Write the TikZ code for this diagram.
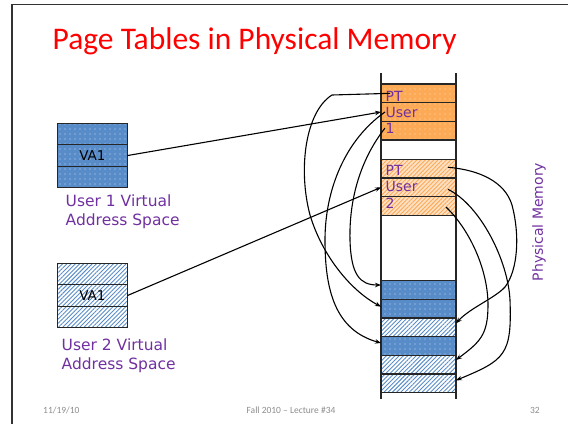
\documentclass[tikz,border=0pt]{standalone}
\usepackage{fontspec}
\setmainfont{Carlito}
\newfontfamily\verdfont{DejaVu Sans}
\usetikzlibrary{patterns.meta,arrows.meta}
\definecolor{memblue}{RGB}{88,140,200}
\definecolor{memorange}{RGB}{252,170,86}
\definecolor{labelpurple}{RGB}{112,48,160}
\definecolor{footgray}{RGB}{140,140,140}
\newcommand{\rowh}{18.67}
\newcommand{\vah}{21.5}
\tikzset{
    memrow/.style={draw=black!85, line width=1.1pt, minimum width=75pt,
        minimum height=\rowh pt, inner sep=0pt, outer sep=0pt},
    varow/.style={draw=black!85, line width=1pt, minimum width=70pt,
        minimum height=\vah pt, inner sep=0pt, outer sep=0pt},
    bluedots/.style={preaction={fill=memblue},
        pattern={Dots[distance=5pt,radius=0.65pt]}, pattern color=memblue!35!white},
    bluehatch/.style={preaction={fill=white},
        pattern={Lines[angle=45,distance=3pt,line width=0.9pt]}, pattern color=memblue},
    orangedots/.style={preaction={fill=memorange},
        pattern={Dots[distance=5pt,radius=0.65pt]}, pattern color=memorange!40!white},
    orangehatch/.style={preaction={fill=memorange!35!white},
        pattern={Lines[angle=45,distance=3pt,line width=0.9pt]}, pattern color=memorange},
    memlabel/.style={font=\verdfont\fontsize{14}{14}\selectfont, text=labelpurple,
        inner sep=0pt, anchor=base west},
    spacelabel/.style={font=\verdfont\fontsize{15.5}{15.5}\selectfont, text=labelpurple,
        inner sep=0pt, anchor=base west},
    vatext/.style={font=\verdfont\fontsize{13.5}{13.5}\selectfont, inner sep=0pt},
    footer/.style={font=\fontsize{9.5}{9.5}\selectfont, text=footgray, inner sep=0pt},
    link/.style={line width=1.1pt, ->},
}

\begin{document}
\begin{tikzpicture}[x=1pt, y=-1pt, >={Stealth[length=6pt,width=4.5pt]}]
\useasboundingbox (0,0) rectangle (568,424);

% slide frame and title
\draw[line width=1.5pt, black!80] (12,424) -- (12,4.7) -- (568,4.7);
\node[anchor=base west, font=\fontsize{31.5}{31.5}\selectfont, text=red, inner sep=0pt]
    (title) at (52.5,49.5) {Page Tables in Physical Memory};

% physical memory column
\draw[line width=1.1pt, black!85] (381,73) -- (381,399);
\draw[line width=1.1pt, black!85] (456,73) -- (456,399);
\foreach \name/\kind/\top in {p1/orangedots/84, p2/orangedots/102.67,
        p3/orangedots/121.33, h1/orangehatch/159.33, h2/orangehatch/178,
        h3/orangehatch/196.67, b1/bluedots/280.67, b2/bluedots/299.33,
        b3/bluehatch/318, b4/bluedots/336.67, b5/bluehatch/355.33,
        b6/bluehatch/374}
    \node[memrow,\kind,anchor=north west] (\name) at (381,\top) {};

\node[memlabel] (pt1) at (385.5,101) {PT};
\node[memlabel] (user1) at (385.5,117) {User};
\node[memlabel] (num1) at (385.5,133.3) {1};
\node[memlabel] (pt2) at (385.5,175) {PT};
\node[memlabel] (user2) at (385.5,191.7) {User};
\node[memlabel] (num2) at (385.5,208.3) {2};

\node[font=\verdfont\fontsize{14}{14}\selectfont, text=labelpurple, rotate=90]
    (physmem) at (539,222) {Physical Memory};

% virtual address spaces
\foreach \r/\top in {1/123.3, 2/144.8, 3/166.3}
    \node[varow,bluedots,anchor=north west] (vaa\r) at (57.4,\top) {};
\foreach \r/\top in {1/263.3, 2/284.8, 3/306.3}
    \node[varow,bluehatch,anchor=north west] (vab\r) at (57.4,\top) {};
\node[vatext] (vaone) at (vaa2) {VA1};
\node[vatext] (vatwo) at (vab2) {VA1};

\node[spacelabel] (space1a) at (65.5,206.7) {User 1 Virtual};
\node[spacelabel] (space1b) at (65.5,225) {Address Space};
\node[spacelabel] (space2a) at (61.5,350) {User 2 Virtual};
\node[spacelabel] (space2b) at (61.5,369) {Address Space};

% footer
\node[footer, anchor=base west] (date) at (43,413) {11/19/10};
\node[footer, anchor=base] (course) at (291,413) {Fall 2010 -- Lecture \#34};
\node[footer, anchor=base east] (page) at (540,413) {32};

% start points of the page table entries
\coordinate (sA) at ([xshift=9pt]p1.west);
\coordinate (sB) at ([xshift=4pt]p2.west);
\coordinate (sC) at ([shift={(4,-2.6)}]p3.west);
\coordinate (sD) at ([shift={(-8,-1.4)}]h1.east);
\coordinate (sE) at ([shift={(-8,2)}]h2.east);
\coordinate (sF) at ([shift={(-10,1)}]h3.east);

% virtual address -> page table
\draw[link] (vaa2.east) -- (p2.west);
\draw[link] (vab2.east) -- (h2.west);

% page table 1 -> frames
\draw[link] (sA) -- (332,95) .. controls (305,112) and (298,170) .. (310,215)
    .. controls (322,255) and (350,290) .. ([shift={(0,-2)}]b2.west);
\draw[link] (sB) .. controls (345,140) and (325,190) .. (325,240)
    .. controls (325,290) and (335,330) .. ([shift={(0,-3)}]b4.west);
\draw[link] (sC) .. controls (360,160) and (349,200) .. (350,240)
    .. controls (351,275) and (360,285) .. ([shift={(0,-5)}]b1.west);

% page table 2 -> frames
\draw[link] (sD) .. controls (480,170) and (505,182) .. (512,205)
    .. controls (520,235) and (518,270) .. (505,287)
    .. controls (495,298) and (470,308) .. ([shift={(0,-4)}]b3.east);
\draw[link] (sE) .. controls (480,205) and (508,260) .. (510,300)
    .. controls (512,355) and (505,360) .. ([shift={(0,-3)}]b6.east);
\draw[link] (sF) .. controls (470,230) and (488,270) .. (488,305)
    .. controls (488,335) and (480,342) .. ([shift={(0,-4.7)}]b5.east);

\end{tikzpicture}
\end{document}
